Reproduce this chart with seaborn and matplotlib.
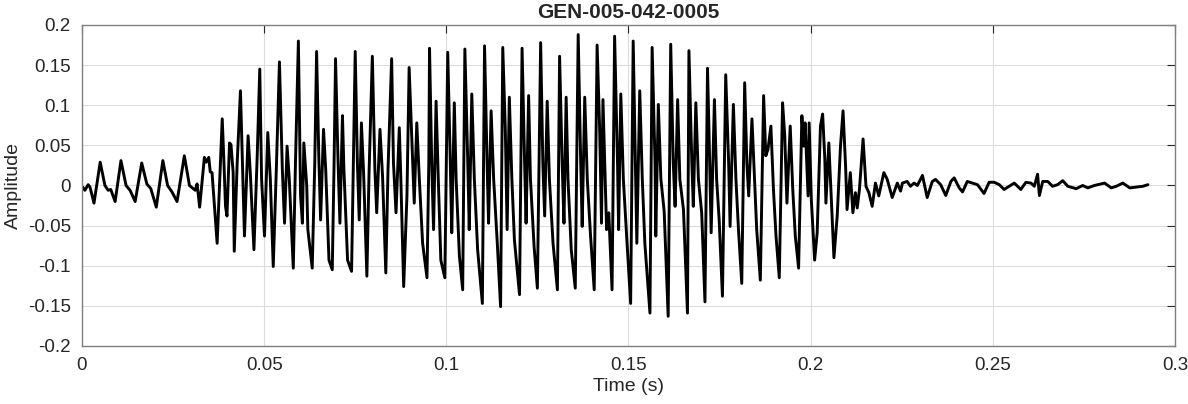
import numpy as np
import pandas as pd
import matplotlib
matplotlib.use("Agg")
import matplotlib.pyplot as plt
import seaborn as sns

# waveform turning points (time in s, amplitude)
t_onset = [0.0002, 0.0008, 0.0017, 0.0022, 0.0033, 0.0050, 0.0063, 0.0072, 0.0079, 0.0091,
           0.0107, 0.0121, 0.0132, 0.0146, 0.0164, 0.0178, 0.0189, 0.0204, 0.0222, 0.0235,
           0.0247, 0.0261, 0.0281, 0.0295, 0.0311, 0.0316, 0.0323, 0.0336, 0.0341, 0.0348,
           0.0352, 0.0357, 0.0371]
a_onset = [-0.002, -0.006, 0.001, -0.002, -0.022, 0.029, 0.000, -0.006, -0.005, -0.020,
           0.031, 0.000, -0.006, -0.020, 0.028, 0.002, -0.004, -0.027, 0.031, 0.000,
           -0.008, -0.020, 0.037, 0.000, -0.006, 0.002, -0.027, 0.035, 0.029, 0.035,
           0.017, 0.016, -0.072]

t_voiced = [0.0385, 0.0389, 0.0394, 0.0398, 0.0405, 0.0409, 0.0415, 0.0418, 0.0426, 0.0435,
            0.0440, 0.0446, 0.0456, 0.0462, 0.0472, 0.0481, 0.0488, 0.0493, 0.0501, 0.0510,
            0.0517, 0.0525, 0.0534, 0.0542, 0.0550, 0.0556, 0.0563, 0.0569, 0.0580, 0.0586,
            0.0594, 0.0600, 0.0605, 0.0609, 0.0617, 0.0620, 0.0632, 0.0639, 0.0644, 0.0650,
            0.0655, 0.0663, 0.0669, 0.0678, 0.0687, 0.0692, 0.0696, 0.0703, 0.0708, 0.0715,
            0.0719, 0.0729, 0.0740, 0.0745, 0.0750, 0.0756, 0.0761, 0.0767, 0.0773, 0.0782,
            0.0788, 0.0797, 0.0804, 0.0809, 0.0818, 0.0825, 0.0834, 0.0840, 0.0850, 0.0855,
            0.0862, 0.0871, 0.0875, 0.0883, 0.0892, 0.0898, 0.0908, 0.0912, 0.0919, 0.0926,
            0.0935, 0.0947, 0.0952, 0.0954, 0.0960, 0.0965, 0.0972, 0.0978, 0.0985, 0.0996,
            0.1000, 0.1004, 0.1011, 0.1015, 0.1022, 0.1027, 0.1036, 0.1045, 0.1051, 0.1059,
            0.1063, 0.1070, 0.1077, 0.1086, 0.1099, 0.1105, 0.1112, 0.1116, 0.1123, 0.1130,
            0.1140, 0.1149, 0.1155, 0.1162, 0.1167, 0.1173, 0.1180, 0.1187, 0.1201, 0.1208,
            0.1215, 0.1219, 0.1226, 0.1231, 0.1241, 0.1250, 0.1259, 0.1265, 0.1270, 0.1277,
            0.1283, 0.1293, 0.1305, 0.1311, 0.1318, 0.1323, 0.1329, 0.1334, 0.1343, 0.1354,
            0.1362, 0.1369, 0.1373, 0.1380, 0.1387, 0.1396, 0.1406, 0.1414, 0.1421, 0.1426,
            0.1430, 0.1440, 0.1446, 0.1455, 0.1462, 0.1470, 0.1473, 0.1479, 0.1486, 0.1495,
            0.1506, 0.1513, 0.1519, 0.1523, 0.1531, 0.1538, 0.1545, 0.1559, 0.1565, 0.1573,
            0.1575, 0.1582, 0.1589, 0.1598, 0.1609, 0.1616, 0.1623, 0.1628, 0.1635, 0.1641,
            0.1651, 0.1662, 0.1666, 0.1674, 0.1678, 0.1685, 0.1692, 0.1701, 0.1710, 0.1717,
            0.1721, 0.1727, 0.1736, 0.1742, 0.1749, 0.1758, 0.1767, 0.1775, 0.1779, 0.1788,
            0.1795, 0.1802, 0.1811, 0.1819, 0.1825, 0.1830, 0.1839, 0.1846, 0.1852, 0.1862,
            0.1871, 0.1877, 0.1883, 0.1891, 0.1898, 0.1905, 0.1914, 0.1923, 0.1929, 0.1935,
            0.1944, 0.1951, 0.1958, 0.1967, 0.1976, 0.1981, 0.1985, 0.1993, 0.1996, 0.2002,
            0.2011, 0.2018, 0.2027, 0.2033, 0.2039, 0.2042, 0.2050, 0.2057, 0.2064, 0.2073,
            0.2082, 0.2089, 0.2096, 0.2100, 0.2109, 0.2116, 0.2123, 0.2128, 0.2134, 0.2144]
a_voiced = [0.083, 0.037, -0.026, -0.038, 0.053, 0.051, 0.016, -0.082, 0.028, 0.118,
            0.037, -0.063, 0.062, 0.016, -0.080, 0.037, 0.145, 0.008, -0.063, 0.066,
            0.008, -0.101, 0.028, 0.154, 0.020, -0.047, 0.049, 0.008, -0.103, 0.028,
            0.180, -0.013, -0.047, 0.053, -0.001, -0.055, -0.103, 0.028, 0.167, 0.037,
            -0.043, 0.070, 0.020, -0.093, -0.105, 0.028, 0.158, 0.028, -0.047, 0.087,
            0.020, -0.093, -0.107, 0.028, 0.167, 0.028, -0.043, 0.078, 0.016, -0.113,
            0.016, 0.161, 0.020, -0.034, 0.070, 0.012, -0.109, 0.020, 0.158, 0.028,
            -0.034, 0.072, 0.012, -0.126, -0.013, 0.147, 0.028, -0.022, 0.078, 0.008,
            -0.072, -0.115, 0.028, 0.171, 0.028, -0.055, 0.105, 0.008, -0.093, -0.115,
            0.028, 0.166, 0.028, -0.059, 0.103, 0.008, -0.088, -0.130, 0.170, 0.028,
            -0.055, 0.114, 0.008, -0.080, -0.147, 0.174, 0.028, -0.047, 0.093, 0.008,
            -0.072, -0.151, 0.172, 0.070, -0.055, 0.110, 0.008, -0.068, -0.136, 0.171,
            0.028, -0.047, 0.112, 0.008, -0.076, -0.128, 0.178, 0.028, -0.038, 0.105,
            0.008, -0.072, -0.130, 0.161, 0.028, -0.047, 0.110, 0.008, -0.080, -0.128,
            0.188, 0.028, -0.051, 0.110, 0.008, -0.063, -0.130, 0.175, 0.070, -0.047,
            0.107, -0.055, -0.034, -0.130, 0.186, 0.028, -0.055, 0.114, 0.008, -0.063,
            -0.147, 0.180, 0.028, -0.072, 0.118, 0.008, -0.072, -0.159, 0.172, 0.028,
            -0.063, 0.101, 0.008, -0.032, -0.163, 0.176, 0.028, -0.026, 0.107, 0.008,
            -0.030, -0.159, 0.168, 0.028, -0.026, 0.103, 0.008, -0.034, -0.145, 0.146,
            0.070, -0.059, 0.107, 0.008, -0.043, -0.138, 0.138, 0.028, -0.051, 0.101,
            0.008, -0.055, -0.122, 0.128, 0.028, -0.013, 0.083, 0.008, -0.055, -0.118,
            0.112, 0.037, 0.045, 0.074, -0.005, -0.063, -0.115, 0.103, 0.062, -0.022,
            0.074, -0.005, -0.063, -0.103, 0.087, 0.049, 0.078, -0.013, 0.078, -0.018,
            -0.093, -0.059, 0.074, 0.089, 0.033, -0.022, 0.053, -0.018, -0.090, -0.038,
            0.049, 0.093, 0.024, -0.030, 0.016, -0.034, -0.009, -0.028, -0.005, 0.058]

t_decay = [0.2152, 0.2160, 0.2169, 0.2178, 0.2187, 0.2201, 0.2210, 0.2224, 0.2238, 0.2247,
           0.2252, 0.2265, 0.2274, 0.2284, 0.2293, 0.2307, 0.2320, 0.2334, 0.2343, 0.2357,
           0.2371, 0.2385, 0.2394, 0.2408, 0.2417, 0.2430, 0.2444, 0.2458, 0.2476, 0.2490,
           0.2504, 0.2518, 0.2531, 0.2545, 0.2559, 0.2577, 0.2591, 0.2605, 0.2614, 0.2623,
           0.2628, 0.2637, 0.2651, 0.2664, 0.2678, 0.2692, 0.2706, 0.2729, 0.2747, 0.2761,
           0.2779, 0.2807, 0.2825, 0.2839, 0.2857, 0.2876, 0.2894, 0.2912, 0.2926]
a_decay = [-0.001, -0.009, -0.026, 0.003, -0.013, 0.016, 0.008, -0.015, 0.003, -0.007,
           0.003, 0.005, -0.001, 0.003, 0.000, 0.0125, -0.015, 0.005, 0.0075, 0.001,
           -0.0125, 0.005, 0.0095, -0.003, -0.008, 0.005, 0.003, 0.001, -0.010, 0.004,
           0.004, 0.001, -0.005, -0.001, 0.003, -0.005, 0.004, 0.003, -0.001, 0.014,
           -0.0125, 0.005, 0.005, -0.001, 0.001, 0.006, -0.001, -0.004, 0.000, -0.003,
           0.000, 0.003, -0.003, -0.001, 0.003, -0.003, -0.002, -0.001, 0.001]

x_ticks = [0, 0.05, 0.1, 0.15, 0.2, 0.25, 0.3]
y_ticks = [-0.2, -0.15, -0.1, -0.05, 0, 0.05, 0.1, 0.15, 0.2]
title = "GEN-005-042-0005"

df = pd.DataFrame({
    "t": t_onset + t_voiced + t_decay,
    "amp": a_onset + a_voiced + a_decay,
})

sns.set_style("white")
plt.rcParams["font.family"] = ["Liberation Sans", "DejaVu Sans"]

fig = plt.figure(figsize=(11.88, 4.04), dpi=100)
ax = fig.add_axes([0.069, 0.1436, 0.92, 0.7946])

sns.lineplot(data=df, x="t", y="amp", ax=ax, color="black", linewidth=2.1,
             estimator=None, sort=False)

ax.set_xlim(0, 0.3)
ax.set_ylim(-0.2, 0.2)
ax.set_xticks(x_ticks)
ax.set_xticklabels(["0", "0.05", "0.1", "0.15", "0.2", "0.25", "0.3"])
ax.set_yticks(y_ticks)
ax.set_yticklabels(["-0.2", "-0.15", "-0.1", "-0.05", "0", "0.05", "0.1", "0.15", "0.2"])
ax.grid(True, color="#dcdcdc", linewidth=0.8)
ax.set_axisbelow(True)
for s in ax.spines.values():
    s.set_color("#808080")
    s.set_linewidth(1.0)
ax.tick_params(direction="in", length=6, width=0.8, color="#262626",
               top=True, right=True, labelsize=13.5, labelcolor="#262626")
ax.tick_params(axis="x", pad=8)
ax.tick_params(axis="y", pad=8)
ax.set_xlabel("Time (s)", fontsize=14, color="#262626", labelpad=3)
ax.set_ylabel("Amplitude", fontsize=14, color="#262626", labelpad=4)
ax.set_title(title, fontsize=15, fontweight="bold", color="#262626", pad=5)

fig.savefig("out.png", dpi=100)
